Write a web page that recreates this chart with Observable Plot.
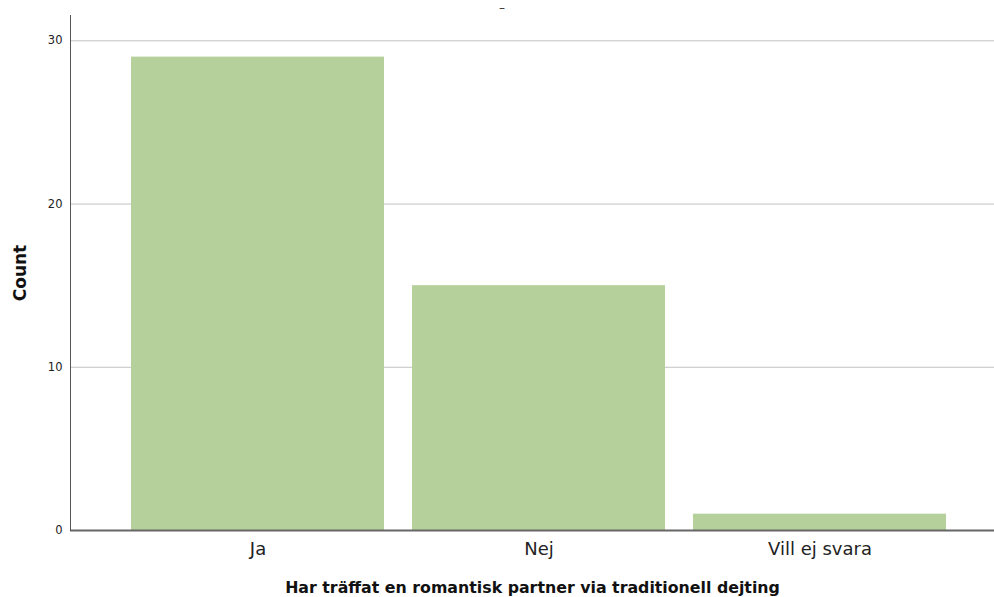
<!DOCTYPE html>
<html>
<head>
<meta charset="utf-8">
<script src="https://cdn.jsdelivr.net/npm/d3@7"></script>
<script src="https://cdn.jsdelivr.net/npm/@observablehq/plot@0.6"></script>
<style>
  html, body { margin: 0; padding: 0; background: #fff; }
  #wrap { position: relative; width: 994px; height: 597px; }
  #dash { position: absolute; left: 499px; top: 1px; font: 12px "DejaVu Sans", sans-serif; color: #333; line-height: 14px; }
</style>
</head>
<body>
<div id="wrap"><div id="dash">–</div></div>
<script>
const categories = ["Ja", "Nej", "Vill ej svara"];
const counts = [29, 15, 1];
const yTicks = [0, 10, 20, 30];
const xTitle = "Har träffat en romantisk partner via traditionell dejting";
const yTitle = "Count";

const data = categories.map((c, i) => ({category: c, count: counts[i]}));

const chart = Plot.plot({
  width: 994,
  height: 597,
  marginLeft: 70,
  marginRight: 0,
  marginTop: 15,
  marginBottom: 67,
  style: {fontFamily: "DejaVu Sans, sans-serif", background: "#fff"},
  x: {domain: categories, paddingInner: 0.1, paddingOuter: 0.19, align: 0.557},
  y: {domain: [0, 31.55]},
  marks: [
    Plot.ruleY(yTicks.filter(d => d > 0), {stroke: "#c4c4c4", strokeWidth: 1}),
    Plot.barY(data, {x: "category", y: "count", fill: "#b5d09a"}),
    Plot.ruleY([0], {stroke: "#666", strokeWidth: 2}),
    Plot.frame({anchor: "left", stroke: "#555", strokeWidth: 1}),
    Plot.axisY({ticks: yTicks, tickSize: 0, tickPadding: 8, fontSize: 11.5, fill: "#222", label: null}),
    Plot.axisX({tickSize: 0, tickPadding: 12, fontSize: 18, fill: "#222", label: null}),
    Plot.text([xTitle], {frameAnchor: "bottom", dy: 62, fontSize: 15.8, fontWeight: "bold", fill: "#111"}),
    Plot.text([yTitle], {frameAnchor: "left", dx: -50, rotate: -90, textAnchor: "middle", fontSize: 17, fontWeight: "bold", fill: "#111"})
  ]
});
document.getElementById("wrap").appendChild(chart);
</script>
</body>
</html>
